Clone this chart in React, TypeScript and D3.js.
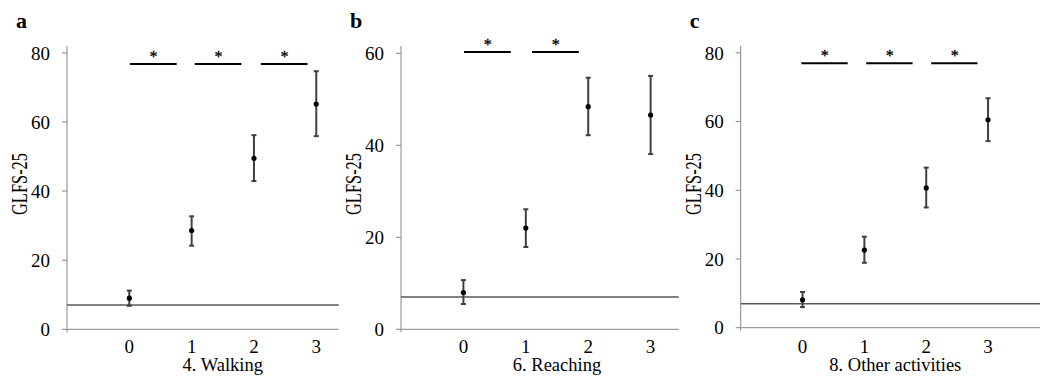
import React from 'react';
import * as d3 from 'd3';

// scale categories shared by all three panels
const categories = [0, 1, 2, 3];

// GLFS-25 means and error limits
const walkingMean = [9.0, 28.6, 49.5, 65.2];
const walkingLow = [6.8, 24.2, 42.9, 55.9];
const walkingHigh = [11.2, 32.7, 56.2, 74.7];

const reachingMean = [8.0, 22.0, 48.4, 46.6];
const reachingLow = [5.5, 17.9, 42.2, 38.1];
const reachingHigh = [10.7, 26.1, 54.7, 55.1];

const otherMean = [8.1, 22.6, 40.7, 60.5];
const otherLow = [6.0, 18.9, 35.0, 54.3];
const otherHigh = [10.4, 26.5, 46.6, 66.8];

// cut-off reference line
const cutoff = 7;

// significance brackets (start position on the category scale) and their height
const walkingSig = [0.01, 1.05, 2.11];
const reachingSig = [0.01, 1.1];
const otherSig = [-0.02, 1.03, 2.08];
const sigLevel = [76.8, 60.3, 77.0];

const panelLetters = ['a', 'b', 'c'];
const panelTitles = ['4. Walking', '6. Reaching', '8. Other activities'];
const yMax = [82, 61.6, 82];
const yTicks = [[0, 20, 40, 60, 80], [0, 20, 40, 60], [0, 20, 40, 60, 80]];
const xMax = [3.36, 3.45, 3.84];

interface Panel {
  letter: string;
  title: string;
  mean: number[];
  low: number[];
  high: number[];
  sig: number[];
  sigY: number;
  yMax: number;
  ticks: number[];
  xMax: number;
  left: number;
  right: number;
  bottom: number;
}

const frames = [
  { left: 67, right: 338.7, bottom: 329.3 },
  { left: 401, right: 678.7, bottom: 329.3 },
  { left: 740.7, right: 1040, bottom: 327.7 },
];

const panels: Panel[] = [
  { mean: walkingMean, low: walkingLow, high: walkingHigh, sig: walkingSig },
  { mean: reachingMean, low: reachingLow, high: reachingHigh, sig: reachingSig },
  { mean: otherMean, low: otherLow, high: otherHigh, sig: otherSig },
].map((s, i) => ({
  ...s,
  letter: panelLetters[i],
  title: panelTitles[i],
  sigY: sigLevel[i],
  yMax: yMax[i],
  ticks: yTicks[i],
  xMax: xMax[i],
  ...frames[i],
}));

const FONT = '"Liberation Serif", "Times New Roman", serif';
const AXIS = '#868686';
const BAR = '#404040';

const PanelChart: React.FC<{ p: Panel }> = ({ p }) => {
  const top = 46;
  const x = d3.scaleLinear().domain([-1, p.xMax]).range([p.left, p.right]);
  const y = d3.scaleLinear().domain([0, p.yMax]).range([p.bottom, top]);
  const cap = 2.5;

  return (
    <g>
      {/* panel letter */}
      <text x={p.left - 51} y={28} fontSize={22} fontWeight="bold" fontFamily={FONT}>
        {p.letter}
      </text>

      {/* y axis */}
      <line x1={p.left} x2={p.left} y1={top} y2={y(0) + 3} stroke={AXIS} strokeWidth={1} />
      {p.ticks.map(t => (
        <g key={t}>
          <line x1={p.left - 5} x2={p.left} y1={y(t)} y2={y(t)} stroke={AXIS} strokeWidth={1} />
          <text
            x={p.left - 17}
            y={y(t)}
            dy="0.35em"
            textAnchor="end"
            fontSize={19}
            fontFamily={FONT}
          >
            {t}
          </text>
        </g>
      ))}
      <text
        transform={`translate(${p.left - 40},184) rotate(-90)`}
        textAnchor="middle"
        fontSize={24}
        textLength={62}
        lengthAdjust="spacingAndGlyphs"
        fontFamily={FONT}
      >
        GLFS-25
      </text>

      {/* x axis */}
      <line x1={p.left} x2={p.right} y1={y(0)} y2={y(0)} stroke={AXIS} strokeWidth={1} />
      {categories.map(c => (
        <text key={c} x={x(c)} y={353} textAnchor="middle" fontSize={19} fontFamily={FONT}>
          {c}
        </text>
      ))}
      <text x={x(1.5)} y={371} textAnchor="middle" fontSize={18.5} fontFamily={FONT}>
        {p.title}
      </text>

      {/* cut-off line */}
      <line x1={p.left} x2={p.right} y1={y(cutoff)} y2={y(cutoff)} stroke="#595959" strokeWidth={1.5} />

      {/* error bars and means */}
      {categories.map((c, i) => (
        <g key={c}>
          <line x1={x(c)} x2={x(c)} y1={y(p.low[i])} y2={y(p.high[i])} stroke={BAR} strokeWidth={2} />
          <line x1={x(c) - cap} x2={x(c) + cap} y1={y(p.low[i])} y2={y(p.low[i])} stroke={BAR} strokeWidth={2} />
          <line x1={x(c) - cap} x2={x(c) + cap} y1={y(p.high[i])} y2={y(p.high[i])} stroke={BAR} strokeWidth={2} />
          <circle cx={x(c)} cy={y(p.mean[i])} r={2.6} fill="#000" />
        </g>
      ))}

      {/* significance brackets */}
      {p.sig.map((s, i) => (
        <g key={i}>
          <line x1={x(s)} x2={x(s + 0.75)} y1={y(p.sigY)} y2={y(p.sigY)} stroke="#000" strokeWidth={2} />
          <text
            x={x(s + 0.38)}
            y={y(p.sigY) - 2}
            textAnchor="middle"
            fontSize={16}
            fill="#000"
            stroke="#000"
            strokeWidth={0.3}
            fontFamily={FONT}
          >
            *
          </text>
        </g>
      ))}
    </g>
  );
};

const App: React.FC = () => (
  <div style={{ position: 'absolute', left: 0, top: 0 }}>
    <svg width={1040} height={376} style={{ display: 'block', background: '#fff' }}>
      {panels.map(p => (
        <PanelChart key={p.letter} p={p} />
      ))}
    </svg>
  </div>
);

export default App;
